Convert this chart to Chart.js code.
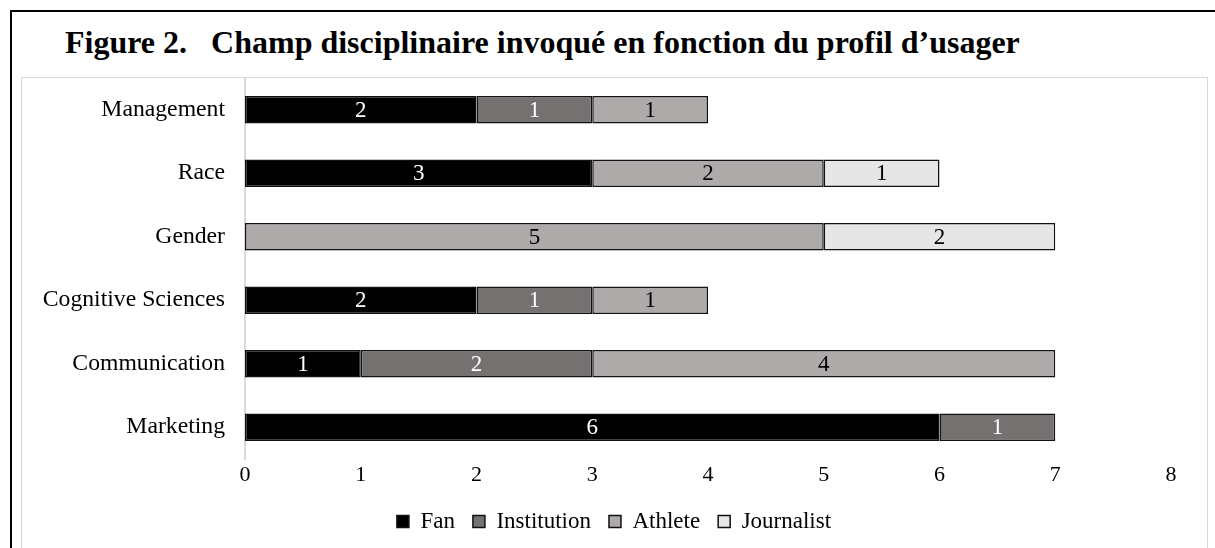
<!DOCTYPE html>
<html>
<head>
<meta charset="utf-8">
<script src="https://cdn.jsdelivr.net/npm/chart.js@4.4.1/dist/chart.umd.min.js"></script>
<style>
  html, body { margin: 0; padding: 0; background: #fff; width: 1215px; height: 548px; overflow: hidden; }
  #frame { position: absolute; left: 10px; top: 10px; width: 1300px; height: 700px;
           border-left: 2px solid #000; border-top: 2px solid #000; }
  #title { position: absolute; left: 65px; top: 24px; margin: 0; line-height: 32px;
           font: bold 32px "Liberation Serif", "Times New Roman", serif; color: #000; white-space: pre; }
  #box { position: absolute; left: 21px; top: 77px; width: 1185px; height: 600px;
         border: 1px solid #d9d9d9; }
  #wrap { position: absolute; left: 22px; top: 78px; width: 1184px; height: 470px; }
</style>
</head>
<body>
<div id="frame"></div>
<div id="box"></div>
<h1 id="title">Figure 2.   Champ disciplinaire invoqué en fonction du profil d’usager</h1>
<div id="wrap"><canvas id="chart"></canvas></div>
<script>
var categories = ["Management", "Race", "Gender", "Cognitive Sciences", "Communication", "Marketing"];
var fan         = [2, 3, null, 2, 1, 6];
var institution = [1, null, null, 1, 2, 1];
var athlete     = [1, 2, 5, 1, 4, null];
var journalist  = [null, 1, 2, null, null, null];
var xTicks = [0, 1, 2, 3, 4, 5, 6, 7, 8];

var serif = '"Liberation Serif", "Times New Roman", serif';

// draw the value in the middle of each segment
var segmentLabels = {
  id: 'segmentLabels',
  afterDatasetsDraw: function (chart) {
    var ctx = chart.ctx;
    ctx.save();
    ctx.font = '23px ' + serif;
    ctx.textAlign = 'center';
    ctx.textBaseline = 'middle';
    chart.data.datasets.forEach(function (ds, i) {
      var meta = chart.getDatasetMeta(i);
      if (meta.hidden) return;
      meta.data.forEach(function (bar, j) {
        var v = ds.data[j];
        if (v == null) return;
        ctx.fillStyle = ds.labelColor;
        ctx.fillText(String(v), (bar.x + bar.base) / 2, bar.y + 1);
      });
    });
    ctx.restore();
  }
};

function series(label, data, fill, labelColor) {
  return {
    label: label,
    data: data,
    backgroundColor: fill,
    borderColor: '#111',
    borderWidth: 1.5,
    borderSkipped: false,
    labelColor: labelColor,
    barPercentage: 0.43,
    categoryPercentage: 1
  };
}

new Chart(document.getElementById('chart'), {
  type: 'bar',
  data: {
    labels: categories,
    datasets: [
      series('Fan', fan, '#000000', '#fff'),
      series('Institution', institution, '#767171', '#fff'),
      series('Athlete', athlete, '#aeaaaa', '#000'),
      series('Journalist', journalist, '#e7e6e6', '#000')
    ]
  },
  options: {
    indexAxis: 'y',
    responsive: true,
    maintainAspectRatio: false,
    animation: false,
    layout: { padding: { top: 0, right: 0, bottom: 5, left: 0 } },
    scales: {
      x: {
        stacked: true,
        min: 0,
        max: 8,
        afterBuildTicks: function (scale) {
          scale.ticks = xTicks.map(function (v) { return { value: v }; });
        },
        afterFit: function (scale) {
          scale.height = 33;
          scale.paddingRight = 35;
        },
        grid: { display: false, drawTicks: false },
        border: { display: false },
        ticks: { color: '#000', font: { family: serif, size: 22 }, padding: 3 }
      },
      y: {
        stacked: true,
        afterFit: function (scale) {
          scale.width = 223;
          scale.paddingTop = 0;
          scale.paddingBottom = 0;
        },
        grid: { display: false, drawTicks: false },
        border: { display: true, color: '#d9d9d9', width: 2 },
        ticks: { color: '#000', font: { family: serif, size: 23.7 }, padding: 20 }
      }
    },
    plugins: {
      legend: {
        position: 'bottom',
        labels: {
          color: '#000',
          font: { family: serif, size: 23 },
          boxWidth: 12,
          boxHeight: 12,
          padding: 18
        }
      },
      tooltip: { enabled: false },
      title: { display: false }
    }
  },
  plugins: [segmentLabels]
});
</script>
</body>
</html>
